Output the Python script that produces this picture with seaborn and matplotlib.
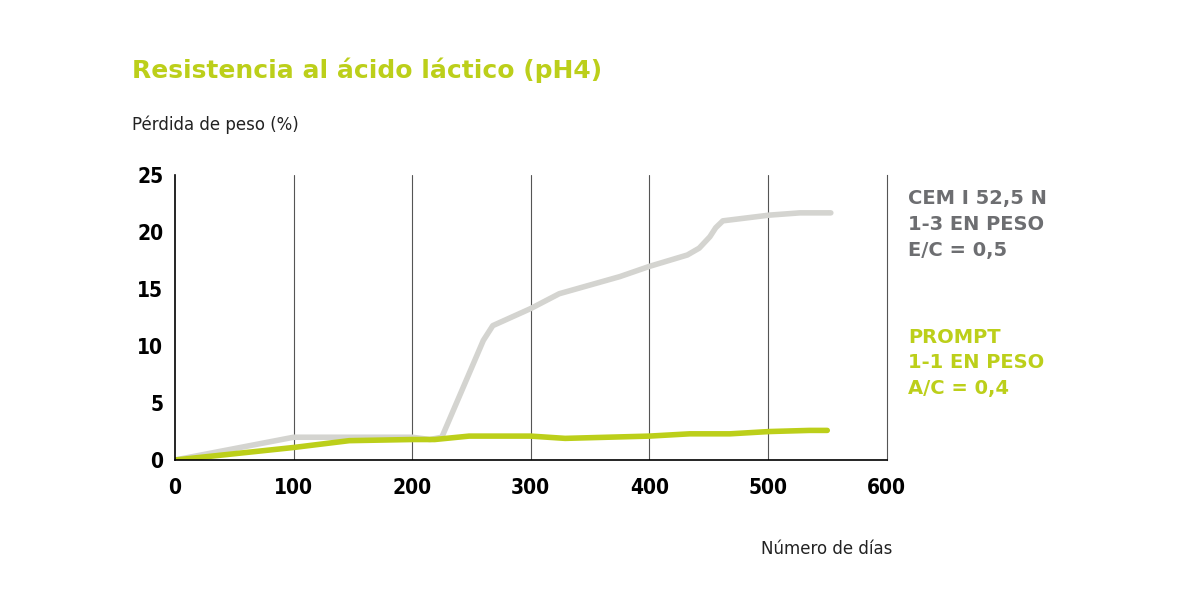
import matplotlib
matplotlib.use("Agg")
import matplotlib.pyplot as plt
import seaborn as sns
import pandas as pd

# datos
dias_cem = [0, 100, 200, 215, 225, 260, 268, 300, 324, 375, 400, 432, 442, 451, 456, 462, 501, 527, 553]
perdida_cem = [0, 2.0, 2.0, 1.8, 2.0, 10.5, 11.8, 13.3, 14.6, 16.1, 17.0, 18.0, 18.6, 19.6, 20.4, 21.0, 21.5, 21.7, 21.7]
dias_prompt = [0, 100, 147, 200, 219, 248, 300, 329, 400, 434, 468, 501, 535, 550]
perdida_prompt = [0, 1.1, 1.7, 1.8, 1.8, 2.1, 2.1, 1.9, 2.1, 2.3, 2.3, 2.5, 2.6, 2.6]

verde = "#bccf1a"
gris = "#d4d4d0"
texto_gris = "#6d6e71"

sns.set_style("white")
plt.rcParams["font.family"] = ["DejaVu Sans"]

fig = plt.figure(figsize=(12, 6.15), dpi=100)
ax = fig.add_axes([0.1458, 0.252, 0.593, 0.463])

df_cem = pd.DataFrame({"dias": dias_cem, "perdida": perdida_cem})
df_prompt = pd.DataFrame({"dias": dias_prompt, "perdida": perdida_prompt})
sns.lineplot(data=df_cem, x="dias", y="perdida", color=gris, lw=4, ax=ax)
sns.lineplot(data=df_prompt, x="dias", y="perdida", color=verde, lw=4, ax=ax)

ax.set_xlim(0, 600)
ax.set_ylim(0, 25)
ax.set_xticks(range(0, 601, 100))
ax.set_yticks(range(0, 26, 5))
for x in range(100, 600, 100):
    ax.axvline(x, color="#555555", lw=0.8, zorder=0)
ax.spines["top"].set_visible(False)
for s in ["left", "bottom", "right"]:
    ax.spines[s].set_color("black")
    ax.spines[s].set_linewidth(1.2)
ax.spines["right"].set_linewidth(0.8)
ax.spines["right"].set_color("#555555")
ax.tick_params(axis="both", labelsize=15, length=5, width=1, color="black",
               labelcolor="black", direction="out")
ax.tick_params(axis="x", pad=8)
for lab in ax.get_xticklabels() + ax.get_yticklabels():
    lab.set_fontweight("bold")
    lab.set_fontstretch("condensed")
ax.set_xlabel("")
ax.set_ylabel("")

fig.text(0.11, 0.885, "Resistencia al ácido láctico (pH4)", color=verde,
         fontsize=18, fontweight="bold", va="center")
fig.text(0.11, 0.797, "Pérdida de peso (%)", color="#222222", fontsize=12, va="center")
fig.text(0.689, 0.108, "Número de días", color="#222222", fontsize=12, ha="center", va="center")

fig.text(0.757, 0.635, "CEM I 52,5 N\n1-3 EN PESO\nE/C = 0,5", color=texto_gris,
         fontsize=14, fontweight="bold", va="center", linespacing=1.45)
fig.text(0.757, 0.41, "PROMPT\n1-1 EN PESO\nA/C = 0,4", color=verde,
         fontsize=14, fontweight="bold", va="center", linespacing=1.45)

fig.savefig("out.png", dpi=100)
